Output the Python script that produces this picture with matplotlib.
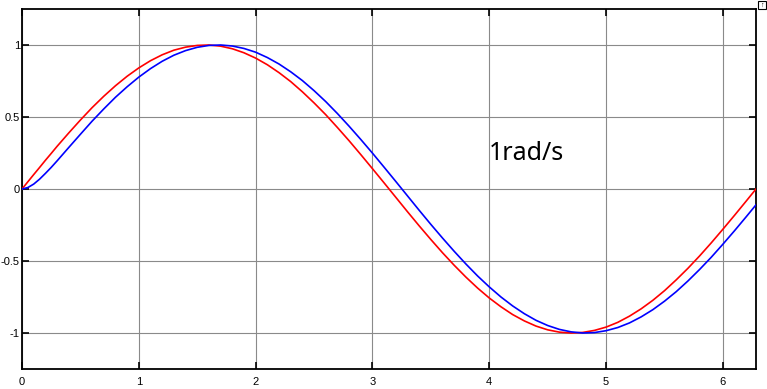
import matplotlib.pyplot as plt
from matplotlib.patches import Rectangle

# time axis (s) and the two scope traces
t = [0.0, 0.05, 0.1, 0.15, 0.2, 0.25, 0.3, 0.4, 0.5, 0.6, 0.7, 0.8, 0.9,
     1.0, 1.1, 1.2, 1.3, 1.4, 1.5, 1.6, 1.7, 1.8, 1.9,
     2.0, 2.1, 2.2, 2.3, 2.4, 2.5, 2.6, 2.7, 2.8, 2.9,
     3.0, 3.1, 3.2, 3.3, 3.4, 3.5, 3.6, 3.7, 3.8, 3.9,
     4.0, 4.1, 4.2, 4.3, 4.4, 4.5, 4.6, 4.7, 4.8, 4.9,
     5.0, 5.1, 5.2, 5.3, 5.4, 5.5, 5.6, 5.7, 5.8, 5.9,
     6.0, 6.1, 6.2, 6.283]

red = [0.000, 0.050, 0.100, 0.149, 0.199, 0.247, 0.296, 0.389, 0.479, 0.565, 0.644, 0.717, 0.783,
       0.841, 0.891, 0.932, 0.964, 0.985, 0.997, 1.000, 0.992, 0.974, 0.946,
       0.909, 0.863, 0.808, 0.746, 0.675, 0.598, 0.516, 0.427, 0.335, 0.239,
       0.141, 0.042, -0.058, -0.158, -0.256, -0.351, -0.443, -0.530, -0.612, -0.688,
       -0.757, -0.818, -0.872, -0.916, -0.952, -0.978, -0.994, -1.000, -0.996, -0.982,
       -0.959, -0.926, -0.883, -0.832, -0.773, -0.706, -0.631, -0.551, -0.465, -0.374,
       -0.279, -0.182, -0.083, 0.000]

blue = [0.000, 0.010, 0.034, 0.068, 0.108, 0.150, 0.195, 0.288, 0.380, 0.471, 0.556, 0.637, 0.710,
        0.777, 0.836, 0.887, 0.929, 0.961, 0.984, 0.997, 1.000, 0.993, 0.976,
        0.950, 0.913, 0.868, 0.814, 0.753, 0.683, 0.607, 0.524, 0.436, 0.344,
        0.249, 0.151, 0.052, -0.048, -0.148, -0.246, -0.341, -0.433, -0.521, -0.604,
        -0.680, -0.750, -0.812, -0.866, -0.912, -0.948, -0.975, -0.992, -1.000, -0.997,
        -0.984, -0.962, -0.930, -0.888, -0.838, -0.779, -0.713, -0.639, -0.559, -0.474,
        -0.383, -0.289, -0.192, -0.110]

x_ticks = [0, 1, 2, 3, 4, 5, 6]
y_ticks = [-1, -0.5, 0, 0.5, 1]
y_tick_labels = ["-1", "-0.5", "0", "0.5", "1"]

plt.rcParams["axes.unicode_minus"] = False
plt.rcParams["font.family"] = ["Liberation Sans", "DejaVu Sans"]

fig = plt.figure(figsize=(7.67, 3.89), dpi=100)
ax = fig.add_axes([22 / 767, 1 - 369 / 389, 734 / 767, 360 / 389])

ax.plot(t, red, color="#ff0000", lw=1.2, zorder=3)
ax.plot(t, blue, color="#0000ff", lw=1.2, zorder=4)

ax.set_xlim(0, 6.283)
ax.set_ylim(-1.25, 1.25)
ax.set_xticks(x_ticks)
ax.set_yticks(y_ticks)
ax.set_yticklabels(y_tick_labels)

ax.grid(True, color="#8a8a8a", lw=0.8, linestyle="-")
ax.tick_params(direction="in", length=5, width=1.2, top=True, right=True,
               labelsize=8, colors="black")
ax.tick_params(axis="x", pad=6)
ax.tick_params(axis="y", pad=1.5)
for side in ax.spines.values():
    side.set_linewidth(1.3)
    side.set_color("black")

ax.text(4.0, 0.2, "1rad/s", fontsize=18, family=["Noto Sans", "DejaVu Sans"],
        va="baseline", ha="left")

# little autoscale button in the top right corner
fig.patches.append(Rectangle((758 / 767, 1 - 9 / 389), 8 / 767, 8 / 389,
                             transform=fig.transFigure, fill=False,
                             edgecolor="black", lw=0.8))
fig.text(762 / 767, 1 - 5 / 389, "\u2191", fontsize=5, ha="center", va="center")

plt.savefig("out.png", dpi=100)
